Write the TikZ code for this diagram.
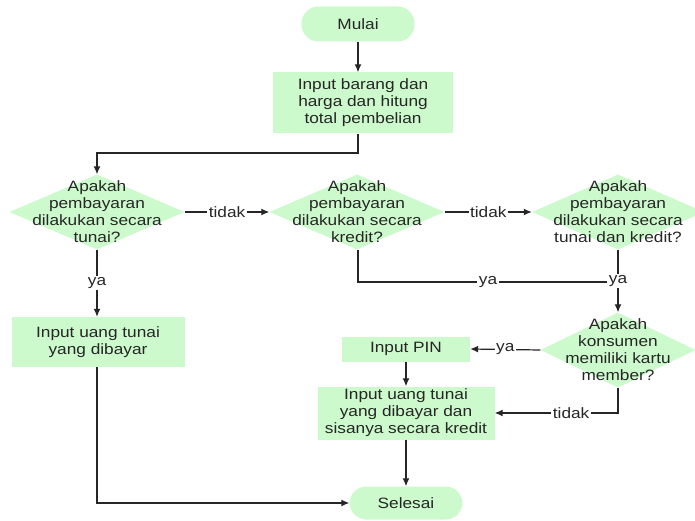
\documentclass[tikz,border=0pt]{standalone}
\usepackage{fontspec}
\setmainfont[FakeStretch=1.15]{Liberation Sans}
\usetikzlibrary{shapes.geometric,arrows.meta}
\definecolor{boxgreen}{RGB}{204,250,204}
\tikzset{
  every node/.style={font=\fontsize{15}{17}\selectfont, text=black!85},
  terminal/.style={fill=boxgreen, rounded corners=17pt, minimum width=113pt, minimum height=35pt, inner sep=0pt},
  process/.style={fill=boxgreen, align=center, inner sep=0pt},
  decision/.style={diamond, fill=boxgreen, inner sep=0pt},
  arr/.style={-{Latex[length=8pt,width=7pt]}, line width=1.2pt, black!85},
  conn/.style={line width=1.2pt, black!85},
  lbl/.style={fill=white, inner sep=1.5pt}
}
\begin{document}
\begin{tikzpicture}[x=1pt,y=-1pt]
  \useasboundingbox (0,0) rectangle (695,521);
  %% nodes
  \node[terminal] (mulai) at (358,24) {Mulai};
  \node[process, minimum width=180pt, minimum height=61pt] (hitung) at (363,103)
    {Input barang dan\\harga dan hitung\\total pembelian};
  \node[decision, minimum width=175pt, minimum height=75pt,
    label={[align=center]center:Apakah\\pembayaran\\dilakukan secara\\tunai?}] (tunai) at (97,212) {};
  \node[decision, minimum width=175pt, minimum height=75pt,
    label={[align=center]center:Apakah\\pembayaran\\dilakukan secara\\kredit?}] (kredit) at (357,212) {};
  \node[decision, minimum width=172pt, minimum height=75pt,
    label={[align=center]center:Apakah\\pembayaran\\dilakukan secara\\tunai dan kredit?}] (campur) at (618,212) {};
  \node[process, minimum width=173pt, minimum height=50pt] (bayar) at (98,342)
    {Input uang tunai\\yang dibayar};
  \node[decision, minimum width=155pt, minimum height=75pt,
    label={[align=center]center:Apakah\\konsumen\\memiliki kartu\\member?}] (member) at (618,350) {};
  \node[process, minimum width=128pt, minimum height=25pt] (pin) at (406,349) {Input PIN};
  \node[process, minimum width=177pt, minimum height=53pt] (sisa) at (406,413)
    {Input uang tunai\\yang dibayar dan\\sisanya secara kredit};
  \node[terminal, minimum height=33pt] (selesai) at (406,503) {Selesai};
  \coordinate (belok) at (358,153);
  \coordinate (gabung) at (618,282);
  %% connectors
  \draw[arr] (mulai.south) -- (mulai.south |- hitung.north);
  \draw[arr] (hitung.south -| mulai) -- (belok) -| (tunai.north);
  \draw[arr] (tunai.east) -- node[lbl] {tidak} (kredit.west);
  \draw[arr] (kredit.east) -- node[lbl] {tidak} (campur.west);
  \draw[arr] (tunai.south) -- node[lbl] {ya} (bayar.north -| tunai);
  \draw[conn] (kredit.south -| belok) |- node[lbl, pos=0.75] {ya} (gabung);
  \draw[arr] (campur.south) -- node[lbl] {ya} (member.north);
  \draw[arr] (member.west) -- node[lbl] {ya} (pin.east);
  \draw[arr] (member.south) |- node[lbl, pos=0.69] {tidak} (sisa.east);
  \draw[arr] (pin.south) -- (sisa.north);
  \draw[arr] (sisa.south) -- (selesai.north);
  \draw[arr] (bayar.south -| tunai) |- (selesai.west);
\end{tikzpicture}
\end{document}
